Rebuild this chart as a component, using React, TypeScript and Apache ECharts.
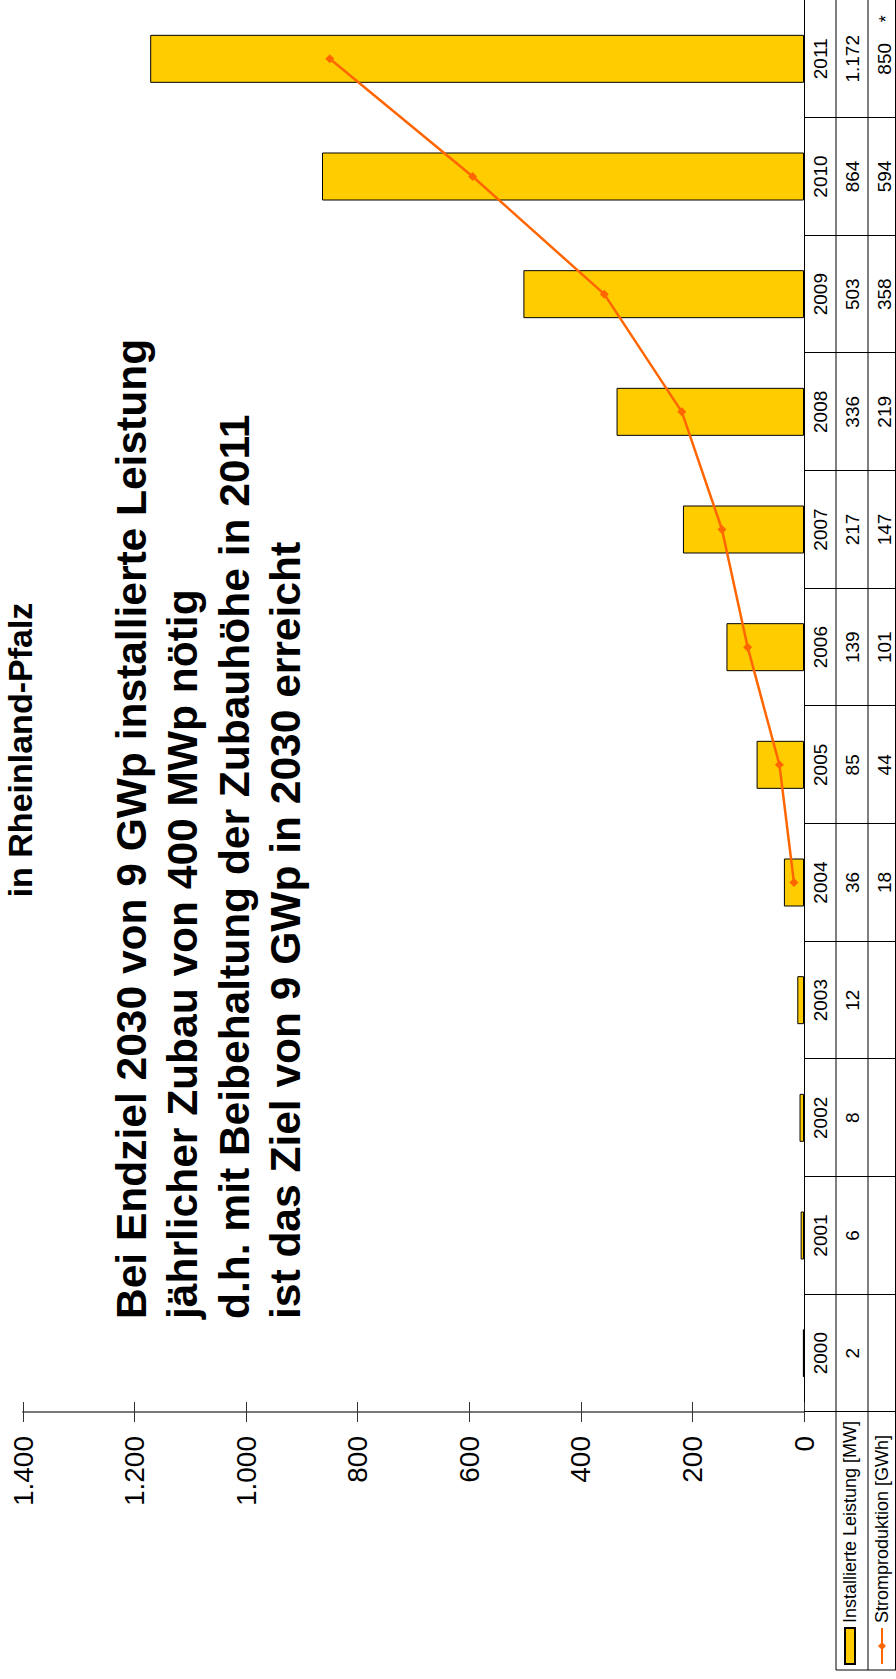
import React, { useEffect, useRef } from "react";
import * as echarts from "echarts";

// Photovoltaik in Rheinland-Pfalz: installed capacity (bars) and yearly production (line)
const years = ["2000", "2001", "2002", "2003", "2004", "2005", "2006", "2007", "2008", "2009", "2010", "2011"];
const installedMW = [2, 6, 8, 12, 36, 85, 139, 217, 336, 503, 864, 1172];
const productionGWh: (number | null)[] = [null, null, null, null, 18, 44, 101, 147, 219, 358, 594, 850];
const valueMin = 0;
const valueMax = 1400;
const valueStep = 200;
const seriesNames = ["Installierte Leistung [MW]", "Stromproduktion [GWh]"];
const subtitle = "in Rheinland-Pfalz";
const noteLines = [
  "Bei Endziel 2030 von 9 GWp installierte Leistung",
  "jährlicher Zubau von 400 MWp nötig",
  "d.h. mit Beibehaltung der Zubauhöhe in 2011",
  "ist das Ziel von 9 GWp in 2030 erreicht",
];
const footnoteMark = "*";

// The chart is laid out in landscape and turned a quarter turn counter-clockwise on the page.
const PAGE_W = 896;
const PAGE_H = 1679;
const W = PAGE_H;
const H = PAGE_W;

const FONT = '"Liberation Sans", Arial, Helvetica, sans-serif';
const TABLE_FONT = '"Liberation Sans Narrow", "Arial Narrow", "Liberation Sans", Arial, sans-serif';

const GRID_LEFT = 267;
const GRID_RIGHT = -4;
const GRID_TOP = 23;
const GRID_BOTTOM = 92;
const AXIS_Y = H - GRID_BOTTOM; // 804
const ROW_H = 32;

const de = (v: number) => String(v).replace(/\B(?=(\d{3})+(?!\d))/g, ".");

export default function App() {
  const ref = useRef<HTMLDivElement>(null);

  useEffect(() => {
    if (!ref.current) return;
    const chart = echarts.init(ref.current, null, { renderer: "svg" });

    const valueAxisBase = {
      type: "value" as const,
      min: valueMin,
      max: valueMax,
      interval: valueStep,
      position: "left" as const,
      splitLine: { show: false },
    };

    const cell = { fontSize: 19, lineHeight: ROW_H, color: "#000", fontFamily: TABLE_FONT };

    chart.setOption({
      animation: false,
      backgroundColor: "#fff",
      textStyle: { fontFamily: FONT },
      grid: { left: GRID_LEFT, right: GRID_RIGHT, top: GRID_TOP, bottom: GRID_BOTTOM, containLabel: false },
      legend: [
        {
          data: [{ name: seriesNames[0], icon: "rect" }],
          left: 14,
          top: AXIS_Y + ROW_H + 5,
          padding: 0,
          itemWidth: 36,
          itemHeight: 10,
          selectedMode: false,
          textStyle: { fontSize: 18, color: "#000", fontFamily: FONT },
        },
        {
          data: [seriesNames[1]],
          left: 14,
          top: AXIS_Y + 2 * ROW_H + 5,
          padding: 0,
          itemWidth: 36,
          itemHeight: 10,
          selectedMode: false,
          textStyle: { fontSize: 18, color: "#000", fontFamily: FONT },
        },
      ],
      xAxis: {
        type: "category",
        data: years,
        position: "bottom",
        boundaryGap: true,
        axisLine: { show: true, lineStyle: { color: "#000", width: 1 } },
        axisTick: { show: true, length: GRID_BOTTOM, interval: 0, lineStyle: { color: "#000", width: 1 } },
        axisLabel: {
          interval: 0,
          margin: 0,
          formatter: (value: string, index: number) => {
            const g = productionGWh[index];
            return `{y|${value}}\n{m|${de(installedMW[index])}}\n{g|${g == null ? "" : de(g)}}`;
          },
          rich: { y: cell, m: cell, g: cell },
        },
      },
      yAxis: [
        {
          ...valueAxisBase,
          axisLine: { show: true, lineStyle: { color: "#777", width: 2 } },
          axisTick: { show: true, inside: false, length: 10, lineStyle: { color: "#333", width: 1 } },
          axisLabel: { fontSize: 28, color: "#000", margin: 24, fontFamily: FONT, formatter: (v: number) => de(v) },
        },
        {
          ...valueAxisBase,
          axisLine: { show: false },
          axisTick: { show: true, inside: true, length: 10, lineStyle: { color: "#333", width: 1 } },
          axisLabel: { show: false },
        },
      ],
      series: [
        {
          name: seriesNames[0],
          type: "bar",
          data: installedMW,
          barWidth: 48,
          itemStyle: { color: "#FFCC00", borderColor: "#000", borderWidth: 1 },
          z: 2,
        },
        {
          name: seriesNames[1],
          type: "line",
          data: productionGWh,
          color: "#FF6600",
          lineStyle: { color: "#FF6600", width: 2.5 },
          itemStyle: { color: "#FF6600" },
          symbol: "diamond",
          symbolSize: 9,
          z: 3,
        },
      ],
    });

    // table rules, annotation text and the footnote mark
    const last = chart.convertToPixel({ xAxisIndex: 0, yAxisIndex: 0 }, [years.length - 1, 0]) as number[];
    const lineStyle = { stroke: "#000", lineWidth: 1 };
    chart.setOption({
      graphic: [
        { type: "line", silent: true, shape: { x1: 9, y1: AXIS_Y + ROW_H, x2: W, y2: AXIS_Y + ROW_H }, style: lineStyle },
        { type: "line", silent: true, shape: { x1: 9, y1: AXIS_Y + 2 * ROW_H, x2: W, y2: AXIS_Y + 2 * ROW_H }, style: lineStyle },
        { type: "line", silent: true, shape: { x1: 9, y1: H - 0.5, x2: W, y2: H - 0.5 }, style: lineStyle },
        { type: "line", silent: true, shape: { x1: 9, y1: AXIS_Y + ROW_H, x2: 9, y2: H }, style: lineStyle },
        {
          type: "text",
          silent: true,
          x: 929,
          y: 20,
          style: { text: subtitle, fontSize: 34, fontWeight: "bold", fontFamily: FONT, fill: "#000", align: "center", verticalAlign: "middle" },
        },
        ...noteLines.map((t, i) => ({
          type: "text",
          silent: true,
          x: 360,
          y: 131 + i * 51.5,
          style: { text: t, fontSize: 42.5, fontWeight: "bold", fontFamily: FONT, fill: "#000", align: "left", verticalAlign: "middle" },
        })),
        {
          type: "text",
          silent: true,
          x: last[0] + 40,
          y: AXIS_Y + 2 * ROW_H + 18,
          style: { text: footnoteMark, fontSize: 18, fontFamily: FONT, fill: "#000", align: "center", verticalAlign: "middle" },
        },
      ],
    });

    return () => chart.dispose();
  }, []);

  return (
    <div style={{ position: "fixed", left: 0, top: 0, width: PAGE_W, height: PAGE_H, overflow: "hidden", background: "#fff" }}>
      <div
        ref={ref}
        style={{
          position: "absolute",
          left: 0,
          top: 0,
          width: W,
          height: H,
          transformOrigin: "0 0",
          transform: `translate(0px, ${W}px) rotate(-90deg)`,
        }}
      />
    </div>
  );
}
